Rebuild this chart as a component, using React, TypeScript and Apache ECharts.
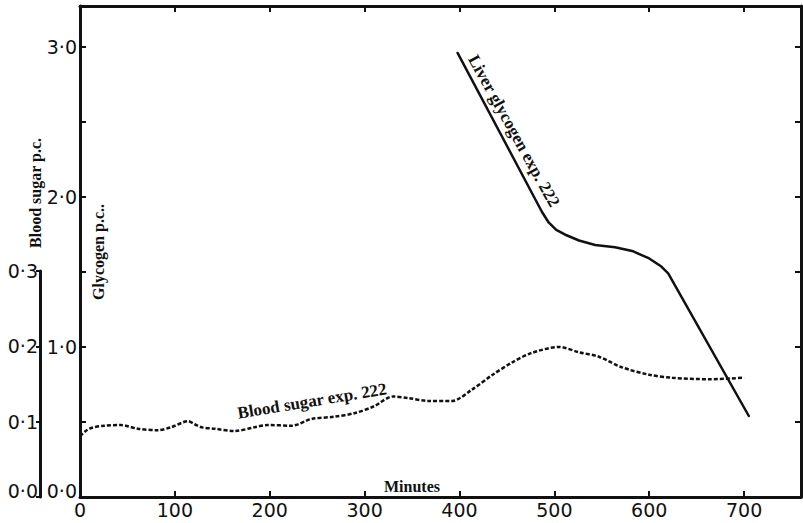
import React, { useEffect, useRef } from "react";
import * as echarts from "echarts";

// Tick values / labels
const minuteTicks = [0, 100, 200, 300, 400, 500, 600, 700];
const glycogenLabelTicks = [0, 1, 2, 3];
const glycogenMinorTicks = [0, 0.5, 1, 1.5, 2, 2.5, 3];
const sugarTicks = [0, 0.1, 0.2, 0.3];

// Blood sugar exp. 222 (p.c.) vs minutes
const sugarMinutes = [0, 6, 12, 25, 43, 61, 82, 96, 114, 121, 128, 142, 163, 184, 198, 223, 244, 268, 290, 310, 330, 346, 367, 392, 413, 435, 455, 476, 505, 526, 547, 571, 600, 624, 663, 700];
const bloodSugar = [0.081, 0.088, 0.092, 0.095, 0.096, 0.091, 0.089, 0.093, 0.101, 0.097, 0.093, 0.091, 0.088, 0.093, 0.096, 0.095, 0.104, 0.107, 0.112, 0.121, 0.134, 0.132, 0.128, 0.128, 0.143, 0.163, 0.179, 0.192, 0.2, 0.193, 0.187, 0.173, 0.163, 0.159, 0.157, 0.159];

// Liver glycogen exp. 222 (p.c.) vs minutes
const liverMinutes = [398, 487, 494, 502, 511, 526, 543, 564, 582, 600, 612, 620, 705];
const liverGlycogen = [2.96, 1.9, 1.83, 1.78, 1.75, 1.71, 1.68, 1.665, 1.64, 1.59, 1.54, 1.49, 0.54];

const X_MAX = 760;
const G_MAX = 3.273;
const INK = "#111";
const NUM_FONT = "DejaVu Sans";
const SERIF = "Liberation Serif";

const dotFmt = (v: number) => {
  const s = v.toFixed(1).replace(".", "\u00B7");
  return v === 0 ? `{z|${s}}` : s;
};
const zeroRich = { z: { padding: [0, 0, 12, 0], fontFamily: NUM_FONT, fontSize: 19, color: INK } };

export default function App() {
  const ref = useRef<HTMLDivElement>(null);
  useEffect(() => {
    if (!ref.current) return;
    const chart = echarts.init(ref.current, undefined, { renderer: "svg" });
    const axisLine = { show: true, onZero: false, lineStyle: { color: INK, width: 3 } };
    const option: any = {
      animation: false,
      backgroundColor: "#fff",
      grid: [
        { left: 80, right: 2, top: 6, bottom: 26 },
        { left: 40, width: 1, top: 271, bottom: 26 },
      ],
      xAxis: [
        {
          type: "value", gridIndex: 0, position: "bottom", min: 0, max: X_MAX,
          axisLine, splitLine: { show: false },
          axisTick: { show: true, inside: true, length: 6, customValues: minuteTicks, lineStyle: { color: INK, width: 2 } },
          axisLabel: { show: true, customValues: minuteTicks, formatter: (v: number) => String(v), color: INK, fontFamily: NUM_FONT, fontSize: 19, margin: 3 },
        },
        {
          type: "value", gridIndex: 0, position: "top", min: 0, max: X_MAX,
          axisLine, splitLine: { show: false },
          axisTick: { show: true, inside: true, length: 6, customValues: minuteTicks, lineStyle: { color: INK, width: 2 } },
          axisLabel: { show: false },
        },
        { type: "value", gridIndex: 1, min: 0, max: 1, show: false },
      ],
      yAxis: [
        {
          type: "value", gridIndex: 0, position: "left", min: 0, max: G_MAX,
          axisLine, splitLine: { show: false },
          axisTick: { show: true, inside: true, length: 6, customValues: glycogenMinorTicks, lineStyle: { color: INK, width: 2 } },
          axisLabel: { show: true, customValues: glycogenLabelTicks, formatter: dotFmt, rich: zeroRich, color: INK, fontFamily: NUM_FONT, fontSize: 19, margin: 3 },
        },
        {
          type: "value", gridIndex: 0, position: "right", min: 0, max: G_MAX,
          axisLine, splitLine: { show: false },
          axisTick: { show: true, inside: true, length: 6, customValues: glycogenMinorTicks, lineStyle: { color: INK, width: 2 } },
          axisLabel: { show: false },
        },
        {
          type: "value", gridIndex: 0, min: 0, max: G_MAX / 5, show: false,
        },
        {
          type: "value", gridIndex: 1, position: "left", min: 0, max: 0.3, interval: 0.1,
          axisLine, splitLine: { show: false },
          axisTick: { show: true, inside: false, length: 4, customValues: sugarTicks, lineStyle: { color: INK, width: 2 } },
          axisLabel: { show: true, customValues: sugarTicks, formatter: dotFmt, rich: zeroRich, color: INK, fontFamily: NUM_FONT, fontSize: 19, margin: 2 },
        },
      ],
      series: [
        {
          type: "line", name: "Blood sugar exp. 222", xAxisIndex: 0, yAxisIndex: 2,
          data: sugarMinutes.map((m, i) => [m, bloodSugar[i]]),
          showSymbol: false, smooth: 0.3,
          lineStyle: { color: INK, width: 2.5, type: [4, 2] },
        },
        {
          type: "line", name: "Liver glycogen exp. 222", xAxisIndex: 0, yAxisIndex: 0,
          data: liverMinutes.map((m, i) => [m, liverGlycogen[i]]),
          showSymbol: false, smooth: false,
          lineStyle: { color: INK, width: 2.5, cap: "round", join: "round" },
        },
      ],
      graphic: [
        {
          type: "text", x: 35, y: 193, rotation: Math.PI / 2,
          style: { text: "Blood sugar p.c.", font: `bold 16px "${SERIF}"`, fill: INK, align: "center", verticalAlign: "middle" },
        },
        {
          type: "text", x: 98, y: 252, rotation: Math.PI / 2,
          style: { text: "Glycogen p.c..", font: `bold 16px "${SERIF}"`, fill: INK, align: "center", verticalAlign: "middle" },
        },
        {
          type: "text", x: 412, y: 486,
          style: { text: "Minutes", font: `bold 16px "${SERIF}"`, fill: INK, align: "center", verticalAlign: "middle" },
        },
        {
          type: "text", x: 312, y: 401, rotation: (9.4 * Math.PI) / 180,
          style: { text: "Blood sugar exp. 222", font: `bold 17px "${SERIF}"`, fill: INK, align: "center", verticalAlign: "middle" },
        },
        {
          type: "text", x: 514, y: 131, rotation: (-61 * Math.PI) / 180,
          style: { text: "Liver glycogen exp. 222", font: `bold 17px "${SERIF}"`, fill: INK, align: "center", verticalAlign: "middle" },
        },
      ],
    };
    chart.setOption(option);
    return () => chart.dispose();
  }, []);
  return <div ref={ref} style={{ position: "absolute", left: 0, top: 0, width: 803, height: 523 }} />;
}
